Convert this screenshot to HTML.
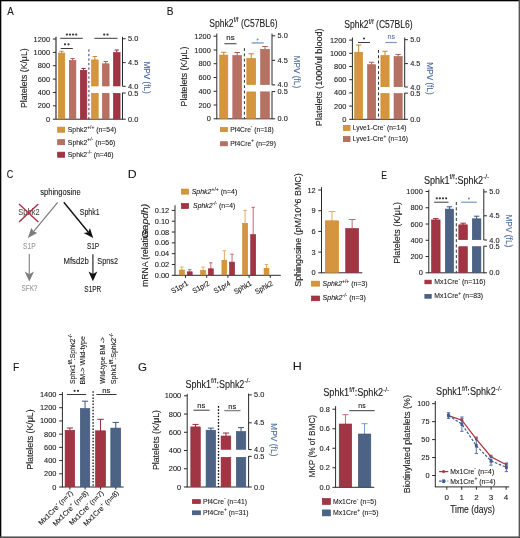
<!DOCTYPE html><html><head><meta charset="utf-8"><title>Figure</title><style>html,body{margin:0;padding:0;background:#fff;}svg{display:block;will-change:transform;filter:blur(0.25px);}text{font-family:"Liberation Sans",sans-serif;}</style></head><body>
<svg width="520" height="538" viewBox="0 0 520 538">
<rect x="0" y="0" width="520" height="538" fill="#fff"/>
<text x="7.28" y="15.2" font-size="10.6" fill="#1a1a1a" stroke="#1a1a1a" stroke-width="0.1" textLength="6.54" lengthAdjust="spacingAndGlyphs">A</text>
<text x="166.87" y="15.2" font-size="10.6" fill="#1a1a1a" stroke="#1a1a1a" stroke-width="0.1" textLength="6.77" lengthAdjust="spacingAndGlyphs">B</text>
<text x="6.74" y="178.1" font-size="10.6" fill="#1a1a1a" stroke="#1a1a1a" stroke-width="0.1" textLength="6.5" lengthAdjust="spacingAndGlyphs">C</text>
<text x="127.79" y="178.1" font-size="10.6" fill="#1a1a1a" stroke="#1a1a1a" stroke-width="0.1" textLength="8.9" lengthAdjust="spacingAndGlyphs">D</text>
<text x="381.2" y="178.5" font-size="10.6" fill="#1a1a1a" stroke="#1a1a1a" stroke-width="0.1" textLength="5.66" lengthAdjust="spacingAndGlyphs">E</text>
<text x="12.91" y="371.3" font-size="10.6" fill="#1a1a1a" stroke="#1a1a1a" stroke-width="0.1" textLength="6.25" lengthAdjust="spacingAndGlyphs">F</text>
<text x="137.92" y="371" font-size="10.6" fill="#1a1a1a" stroke="#1a1a1a" stroke-width="0.1" textLength="8.94" lengthAdjust="spacingAndGlyphs">G</text>
<text x="292.77" y="370.4" font-size="10.6" fill="#1a1a1a" stroke="#1a1a1a" stroke-width="0.1" textLength="9.05" lengthAdjust="spacingAndGlyphs">H</text>
<line x1="56" y1="36.8" x2="56" y2="119.2" stroke="#333" stroke-width="1.2"/>
<line x1="52.8" y1="119.2" x2="56" y2="119.2" stroke="#2a2a2a" stroke-width="1"/>
<text x="50" y="121.75" font-size="7.4" text-anchor="end" fill="#1a1a1a" stroke="#1a1a1a" stroke-width="0.1">0</text>
<line x1="52.8" y1="105.83" x2="56" y2="105.83" stroke="#2a2a2a" stroke-width="1"/>
<text x="50" y="108.39" font-size="7.4" text-anchor="end" fill="#1a1a1a" stroke="#1a1a1a" stroke-width="0.1">200</text>
<line x1="52.8" y1="92.47" x2="56" y2="92.47" stroke="#2a2a2a" stroke-width="1"/>
<text x="50" y="95.02" font-size="7.4" text-anchor="end" fill="#1a1a1a" stroke="#1a1a1a" stroke-width="0.1">400</text>
<line x1="52.8" y1="79.1" x2="56" y2="79.1" stroke="#2a2a2a" stroke-width="1"/>
<text x="50" y="81.65" font-size="7.4" text-anchor="end" fill="#1a1a1a" stroke="#1a1a1a" stroke-width="0.1">600</text>
<line x1="52.8" y1="65.73" x2="56" y2="65.73" stroke="#2a2a2a" stroke-width="1"/>
<text x="50" y="68.29" font-size="7.4" text-anchor="end" fill="#1a1a1a" stroke="#1a1a1a" stroke-width="0.1">800</text>
<line x1="52.8" y1="52.37" x2="56" y2="52.37" stroke="#2a2a2a" stroke-width="1"/>
<text x="50" y="54.92" font-size="7.4" text-anchor="end" fill="#1a1a1a" stroke="#1a1a1a" stroke-width="0.1">1000</text>
<line x1="52.8" y1="39" x2="56" y2="39" stroke="#2a2a2a" stroke-width="1"/>
<text x="50" y="41.55" font-size="7.4" text-anchor="end" fill="#1a1a1a" stroke="#1a1a1a" stroke-width="0.1">1200</text>
<line x1="56" y1="119.2" x2="123" y2="119.2" stroke="#2a2a2a" stroke-width="1"/>
<line x1="122.5" y1="36.8" x2="122.5" y2="86.3" stroke="#2a2a2a" stroke-width="1"/>
<line x1="122.5" y1="92.6" x2="122.5" y2="119.2" stroke="#2a2a2a" stroke-width="1"/>
<line x1="122.5" y1="38.75" x2="125.7" y2="38.75" stroke="#2a2a2a" stroke-width="1"/>
<text x="128" y="41.3" font-size="7.4" text-anchor="start" fill="#1a1a1a" stroke="#1a1a1a" stroke-width="0.1">5.0</text>
<line x1="122.5" y1="62.6" x2="125.7" y2="62.6" stroke="#2a2a2a" stroke-width="1"/>
<text x="128" y="65.15" font-size="7.4" text-anchor="start" fill="#1a1a1a" stroke="#1a1a1a" stroke-width="0.1">4.5</text>
<line x1="122.5" y1="86.3" x2="125.7" y2="86.3" stroke="#2a2a2a" stroke-width="1"/>
<text x="128" y="88.85" font-size="7.4" text-anchor="start" fill="#1a1a1a" stroke="#1a1a1a" stroke-width="0.1">4.0</text>
<line x1="122.5" y1="93" x2="125.7" y2="93" stroke="#2a2a2a" stroke-width="1"/>
<text x="128" y="95.55" font-size="7.4" text-anchor="start" fill="#1a1a1a" stroke="#1a1a1a" stroke-width="0.1">0.5</text>
<line x1="122.5" y1="119.2" x2="125.7" y2="119.2" stroke="#2a2a2a" stroke-width="1"/>
<text x="128" y="121.75" font-size="7.4" text-anchor="start" fill="#1a1a1a" stroke="#1a1a1a" stroke-width="0.1">0.0</text>
<text x="26.6" y="108.01" font-size="8.4" fill="#1a1a1a" stroke="#1a1a1a" stroke-width="0.1" textLength="59.65" lengthAdjust="spacingAndGlyphs" transform="rotate(-90 26.6 108.01)">Platelets (K/μL)</text>
<text x="144.3" y="61.53" font-size="8.4" fill="#4A6A9E" stroke="#4A6A9E" stroke-width="0.1" textLength="32.28" lengthAdjust="spacingAndGlyphs" transform="rotate(90 144.3 61.53)">MPV (fL)</text>
<line x1="61.6" y1="53.25" x2="61.6" y2="51.25" stroke="#C8882F" stroke-width="1"/>
<line x1="59.5" y1="51.25" x2="63.7" y2="51.25" stroke="#C8882F" stroke-width="1"/>
<rect x="58.4" y="53.05" width="6.4" height="65.85" fill="#D5953E" stroke="#C8882F" stroke-width="0.6"/>
<line x1="72.6" y1="60.5" x2="72.6" y2="58.5" stroke="#A86355" stroke-width="1"/>
<line x1="70.44" y1="58.5" x2="74.76" y2="58.5" stroke="#A86355" stroke-width="1"/>
<rect x="69.3" y="60.3" width="6.6" height="58.6" fill="#B77163" stroke="#A86355" stroke-width="0.6"/>
<line x1="83.55" y1="70.5" x2="83.55" y2="68.4" stroke="#922838" stroke-width="1"/>
<line x1="81.42" y1="68.4" x2="85.68" y2="68.4" stroke="#922838" stroke-width="1"/>
<rect x="80.3" y="70.3" width="6.5" height="48.6" fill="#A23544" stroke="#922838" stroke-width="0.6"/>
<line x1="88.9" y1="49.4" x2="88.9" y2="119.2" stroke="#3a3a3a" stroke-width="1" stroke-dasharray="2.3,2.2"/>
<line x1="94.85" y1="60.1" x2="94.85" y2="56.5" stroke="#C8882F" stroke-width="1"/>
<line x1="92.66" y1="56.5" x2="97.04" y2="56.5" stroke="#C8882F" stroke-width="1"/>
<rect x="91.5" y="59.9" width="6.7" height="26.1" fill="#D5953E" stroke="#C8882F" stroke-width="0.6"/>
<rect x="91.5" y="93.3" width="6.7" height="25.6" fill="#D5953E" stroke="#C8882F" stroke-width="0.6"/>
<line x1="105.75" y1="64" x2="105.75" y2="61.5" stroke="#A86355" stroke-width="1"/>
<line x1="103.56" y1="61.5" x2="107.94" y2="61.5" stroke="#A86355" stroke-width="1"/>
<rect x="102.4" y="63.8" width="6.7" height="22.2" fill="#B77163" stroke="#A86355" stroke-width="0.6"/>
<rect x="102.4" y="93.3" width="6.7" height="25.6" fill="#B77163" stroke="#A86355" stroke-width="0.6"/>
<line x1="116.75" y1="52.75" x2="116.75" y2="50" stroke="#922838" stroke-width="1"/>
<line x1="114.56" y1="50" x2="118.94" y2="50" stroke="#922838" stroke-width="1"/>
<rect x="113.4" y="52.55" width="6.7" height="33.45" fill="#A23544" stroke="#922838" stroke-width="0.6"/>
<rect x="113.4" y="93.3" width="6.7" height="25.6" fill="#A23544" stroke="#922838" stroke-width="0.6"/>
<line x1="60.2" y1="38.3" x2="82.8" y2="38.3" stroke="#3a3a3a" stroke-width="1"/>
<circle cx="66.9" cy="34.6" r="1.15" fill="#3a3a3a"/>
<circle cx="70" cy="34.6" r="1.15" fill="#3a3a3a"/>
<circle cx="73.1" cy="34.6" r="1.15" fill="#3a3a3a"/>
<circle cx="76.2" cy="34.6" r="1.15" fill="#3a3a3a"/>
<line x1="60.7" y1="48.5" x2="72.8" y2="48.5" stroke="#3a3a3a" stroke-width="1"/>
<circle cx="65" cy="44.3" r="1.15" fill="#3a3a3a"/>
<circle cx="68.5" cy="44.3" r="1.15" fill="#3a3a3a"/>
<line x1="94.4" y1="38.3" x2="117.5" y2="38.3" stroke="#3a3a3a" stroke-width="1"/>
<circle cx="104.2" cy="34.6" r="1.15" fill="#3a3a3a"/>
<circle cx="107.5" cy="34.6" r="1.15" fill="#3a3a3a"/>
<rect x="57.65" y="127.15" width="7" height="5.1" fill="#D5953E" stroke="#C8882F" stroke-width="0.7"/>
<text x="67.79" y="132.2" font-size="7.8" fill="#1a1a1a" stroke="#1a1a1a" stroke-width="0.1" textLength="48.44" lengthAdjust="spacingAndGlyphs">Sphk2<tspan font-size="5.62" dy="-3.43">+/+</tspan><tspan dy="3.43"> (n=54)</tspan></text>
<rect x="57.65" y="139.65" width="7" height="5.1" fill="#B77163" stroke="#A86355" stroke-width="0.7"/>
<text x="67.79" y="144.7" font-size="7.8" fill="#1a1a1a" stroke="#1a1a1a" stroke-width="0.1" textLength="47.54" lengthAdjust="spacingAndGlyphs">Sphk2<tspan font-size="5.62" dy="-3.43">+/-</tspan><tspan dy="3.43"> (n=56)</tspan></text>
<rect x="57.65" y="152.15" width="7" height="5.1" fill="#A23544" stroke="#922838" stroke-width="0.7"/>
<text x="67.79" y="157.2" font-size="7.8" fill="#1a1a1a" stroke="#1a1a1a" stroke-width="0.1" textLength="45.83" lengthAdjust="spacingAndGlyphs">Sphk2<tspan font-size="5.62" dy="-3.43">-/-</tspan><tspan dy="3.43"> (n=46)</tspan></text>
<line x1="216.8" y1="33.5" x2="216.8" y2="118.8" stroke="#2a2a2a" stroke-width="1"/>
<line x1="213.6" y1="118.8" x2="216.8" y2="118.8" stroke="#2a2a2a" stroke-width="1"/>
<text x="210.8" y="121.35" font-size="7.4" text-anchor="end" fill="#1a1a1a" stroke="#1a1a1a" stroke-width="0.1">0</text>
<line x1="213.6" y1="105.03" x2="216.8" y2="105.03" stroke="#2a2a2a" stroke-width="1"/>
<text x="210.8" y="107.59" font-size="7.4" text-anchor="end" fill="#1a1a1a" stroke="#1a1a1a" stroke-width="0.1">200</text>
<line x1="213.6" y1="91.27" x2="216.8" y2="91.27" stroke="#2a2a2a" stroke-width="1"/>
<text x="210.8" y="93.82" font-size="7.4" text-anchor="end" fill="#1a1a1a" stroke="#1a1a1a" stroke-width="0.1">400</text>
<line x1="213.6" y1="77.5" x2="216.8" y2="77.5" stroke="#2a2a2a" stroke-width="1"/>
<text x="210.8" y="80.05" font-size="7.4" text-anchor="end" fill="#1a1a1a" stroke="#1a1a1a" stroke-width="0.1">600</text>
<line x1="213.6" y1="63.73" x2="216.8" y2="63.73" stroke="#2a2a2a" stroke-width="1"/>
<text x="210.8" y="66.29" font-size="7.4" text-anchor="end" fill="#1a1a1a" stroke="#1a1a1a" stroke-width="0.1">800</text>
<line x1="213.6" y1="49.97" x2="216.8" y2="49.97" stroke="#2a2a2a" stroke-width="1"/>
<text x="210.8" y="52.52" font-size="7.4" text-anchor="end" fill="#1a1a1a" stroke="#1a1a1a" stroke-width="0.1">1000</text>
<line x1="213.6" y1="36.2" x2="216.8" y2="36.2" stroke="#2a2a2a" stroke-width="1"/>
<text x="210.8" y="38.75" font-size="7.4" text-anchor="end" fill="#1a1a1a" stroke="#1a1a1a" stroke-width="0.1">1200</text>
<line x1="216.3" y1="118.8" x2="272.5" y2="118.8" stroke="#2a2a2a" stroke-width="1"/>
<line x1="272" y1="33.5" x2="272" y2="84.9" stroke="#2a2a2a" stroke-width="1"/>
<line x1="272" y1="91.4" x2="272" y2="118.8" stroke="#2a2a2a" stroke-width="1"/>
<line x1="272" y1="35.8" x2="275.2" y2="35.8" stroke="#2a2a2a" stroke-width="1"/>
<text x="277.5" y="38.35" font-size="7.4" text-anchor="start" fill="#1a1a1a" stroke="#1a1a1a" stroke-width="0.1">5.0</text>
<line x1="272" y1="60.3" x2="275.2" y2="60.3" stroke="#2a2a2a" stroke-width="1"/>
<text x="277.5" y="62.85" font-size="7.4" text-anchor="start" fill="#1a1a1a" stroke="#1a1a1a" stroke-width="0.1">4.5</text>
<line x1="272" y1="84.9" x2="275.2" y2="84.9" stroke="#2a2a2a" stroke-width="1"/>
<text x="277.5" y="87.45" font-size="7.4" text-anchor="start" fill="#1a1a1a" stroke="#1a1a1a" stroke-width="0.1">4.0</text>
<line x1="272" y1="91.6" x2="275.2" y2="91.6" stroke="#2a2a2a" stroke-width="1"/>
<text x="277.5" y="94.15" font-size="7.4" text-anchor="start" fill="#1a1a1a" stroke="#1a1a1a" stroke-width="0.1">0.5</text>
<line x1="272" y1="118.8" x2="275.2" y2="118.8" stroke="#2a2a2a" stroke-width="1"/>
<text x="277.5" y="121.35" font-size="7.4" text-anchor="start" fill="#1a1a1a" stroke="#1a1a1a" stroke-width="0.1">0.0</text>
<text x="186.8" y="106.41" font-size="8.4" fill="#1a1a1a" stroke="#1a1a1a" stroke-width="0.1" textLength="59.76" lengthAdjust="spacingAndGlyphs" transform="rotate(-90 186.8 106.41)">Platelets (K/μL)</text>
<text x="294.4" y="55.62" font-size="8.4" fill="#4A6A9E" stroke="#4A6A9E" stroke-width="0.1" textLength="32.59" lengthAdjust="spacingAndGlyphs" transform="rotate(90 294.4 55.62)">MPV (fL)</text>
<line x1="223.75" y1="55.25" x2="223.75" y2="52.25" stroke="#C8882F" stroke-width="1"/>
<line x1="221.14" y1="52.25" x2="226.36" y2="52.25" stroke="#C8882F" stroke-width="1"/>
<rect x="219.7" y="55.05" width="8.1" height="63.45" fill="#D5953E" stroke="#C8882F" stroke-width="0.6"/>
<line x1="237.2" y1="55.75" x2="237.2" y2="52.5" stroke="#A86355" stroke-width="1"/>
<line x1="234.38" y1="52.5" x2="240.02" y2="52.5" stroke="#A86355" stroke-width="1"/>
<rect x="232.8" y="55.55" width="8.8" height="62.95" fill="#B77163" stroke="#A86355" stroke-width="0.6"/>
<line x1="244.4" y1="48.1" x2="244.4" y2="118.8" stroke="#333" stroke-width="1" stroke-dasharray="2.9,2.4"/>
<line x1="251.25" y1="58.6" x2="251.25" y2="53.75" stroke="#C8882F" stroke-width="1"/>
<line x1="248.4" y1="53.75" x2="254.1" y2="53.75" stroke="#C8882F" stroke-width="1"/>
<rect x="246.8" y="58.4" width="8.9" height="26.2" fill="#D5953E" stroke="#C8882F" stroke-width="0.6"/>
<rect x="246.8" y="91.9" width="8.9" height="26.6" fill="#D5953E" stroke="#C8882F" stroke-width="0.6"/>
<line x1="265" y1="49.5" x2="265" y2="46.5" stroke="#A86355" stroke-width="1"/>
<line x1="262.18" y1="46.5" x2="267.82" y2="46.5" stroke="#A86355" stroke-width="1"/>
<rect x="260.6" y="49.3" width="8.8" height="35.3" fill="#B77163" stroke="#A86355" stroke-width="0.6"/>
<rect x="260.6" y="91.9" width="8.8" height="26.6" fill="#B77163" stroke="#A86355" stroke-width="0.6"/>
<line x1="224.4" y1="43.75" x2="236.5" y2="43.75" stroke="#3a3a3a" stroke-width="1"/>
<text x="226.38" y="39.7" font-size="7" fill="#1a1a1a" stroke="#1a1a1a" stroke-width="0.1" textLength="8.31" lengthAdjust="spacingAndGlyphs">ns</text>
<line x1="251.6" y1="42.9" x2="263.75" y2="42.9" stroke="#8DA4C6" stroke-width="1.5"/>
<circle cx="257.6" cy="39.6" r="1" fill="#7890B8"/>
<text x="209.21" y="26.6" font-size="10" fill="#1a1a1a" stroke="#1a1a1a" stroke-width="0.1" textLength="68.32" lengthAdjust="spacingAndGlyphs">Sphk2<tspan font-size="7.2" dy="-4.4">f/f</tspan><tspan dy="4.4"> (C57BL6)</tspan></text>
<rect x="220.35" y="127.55" width="7" height="4.1" fill="#D5953E" stroke="#C8882F" stroke-width="0.7"/>
<rect x="220.35" y="141.75" width="7" height="4.1" fill="#B77163" stroke="#A86355" stroke-width="0.7"/>
<text x="230.15" y="131.7" font-size="7.8" fill="#1a1a1a" stroke="#1a1a1a" stroke-width="0.1" textLength="43.56" lengthAdjust="spacingAndGlyphs">Pf4Cre<tspan font-size="5.62" dy="-3.43">-</tspan><tspan dy="3.43"> (n=18)</tspan></text>
<text x="230.14" y="145.8" font-size="7.8" fill="#1a1a1a" stroke="#1a1a1a" stroke-width="0.1" textLength="45.78" lengthAdjust="spacingAndGlyphs">Pf4Cre<tspan font-size="5.62" dy="-3.43">+</tspan><tspan dy="3.43"> (n=29)</tspan></text>
<line x1="352.4" y1="37.5" x2="352.4" y2="119.3" stroke="#2a2a2a" stroke-width="1"/>
<line x1="349.2" y1="119.3" x2="352.4" y2="119.3" stroke="#2a2a2a" stroke-width="1"/>
<text x="346.4" y="121.85" font-size="7.4" text-anchor="end" fill="#1a1a1a" stroke="#1a1a1a" stroke-width="0.1">0</text>
<line x1="349.2" y1="106.1" x2="352.4" y2="106.1" stroke="#2a2a2a" stroke-width="1"/>
<text x="346.4" y="108.65" font-size="7.4" text-anchor="end" fill="#1a1a1a" stroke="#1a1a1a" stroke-width="0.1">200</text>
<line x1="349.2" y1="92.9" x2="352.4" y2="92.9" stroke="#2a2a2a" stroke-width="1"/>
<text x="346.4" y="95.45" font-size="7.4" text-anchor="end" fill="#1a1a1a" stroke="#1a1a1a" stroke-width="0.1">400</text>
<line x1="349.2" y1="79.7" x2="352.4" y2="79.7" stroke="#2a2a2a" stroke-width="1"/>
<text x="346.4" y="82.25" font-size="7.4" text-anchor="end" fill="#1a1a1a" stroke="#1a1a1a" stroke-width="0.1">600</text>
<line x1="349.2" y1="66.5" x2="352.4" y2="66.5" stroke="#2a2a2a" stroke-width="1"/>
<text x="346.4" y="69.05" font-size="7.4" text-anchor="end" fill="#1a1a1a" stroke="#1a1a1a" stroke-width="0.1">800</text>
<line x1="349.2" y1="53.3" x2="352.4" y2="53.3" stroke="#2a2a2a" stroke-width="1"/>
<text x="346.4" y="55.85" font-size="7.4" text-anchor="end" fill="#1a1a1a" stroke="#1a1a1a" stroke-width="0.1">1000</text>
<line x1="349.2" y1="40.1" x2="352.4" y2="40.1" stroke="#2a2a2a" stroke-width="1"/>
<text x="346.4" y="42.65" font-size="7.4" text-anchor="end" fill="#1a1a1a" stroke="#1a1a1a" stroke-width="0.1">1200</text>
<line x1="351.9" y1="119.3" x2="405.2" y2="119.3" stroke="#2a2a2a" stroke-width="1"/>
<line x1="404.7" y1="37.5" x2="404.7" y2="87" stroke="#2a2a2a" stroke-width="1"/>
<line x1="404.7" y1="92.9" x2="404.7" y2="119.3" stroke="#2a2a2a" stroke-width="1"/>
<line x1="404.7" y1="39.7" x2="407.9" y2="39.7" stroke="#2a2a2a" stroke-width="1"/>
<text x="410.2" y="42.25" font-size="7.4" text-anchor="start" fill="#1a1a1a" stroke="#1a1a1a" stroke-width="0.1">5.0</text>
<line x1="404.7" y1="63.6" x2="407.9" y2="63.6" stroke="#2a2a2a" stroke-width="1"/>
<text x="410.2" y="66.15" font-size="7.4" text-anchor="start" fill="#1a1a1a" stroke="#1a1a1a" stroke-width="0.1">4.5</text>
<line x1="404.7" y1="87" x2="407.9" y2="87" stroke="#2a2a2a" stroke-width="1"/>
<text x="410.2" y="89.55" font-size="7.4" text-anchor="start" fill="#1a1a1a" stroke="#1a1a1a" stroke-width="0.1">4.0</text>
<line x1="404.7" y1="93.2" x2="407.9" y2="93.2" stroke="#2a2a2a" stroke-width="1"/>
<text x="410.2" y="95.75" font-size="7.4" text-anchor="start" fill="#1a1a1a" stroke="#1a1a1a" stroke-width="0.1">0.5</text>
<line x1="404.7" y1="119.3" x2="407.9" y2="119.3" stroke="#2a2a2a" stroke-width="1"/>
<text x="410.2" y="121.85" font-size="7.4" text-anchor="start" fill="#1a1a1a" stroke="#1a1a1a" stroke-width="0.1">0.0</text>
<text x="321.8" y="126.14" font-size="8.4" fill="#1a1a1a" stroke="#1a1a1a" stroke-width="0.1" textLength="97.7" lengthAdjust="spacingAndGlyphs" transform="rotate(-90 321.8 126.14)">Platelets (1000/ul blood)</text>
<text x="427" y="62.33" font-size="8.4" fill="#4A6A9E" stroke="#4A6A9E" stroke-width="0.1" textLength="32.38" lengthAdjust="spacingAndGlyphs" transform="rotate(90 427 62.33)">MPV (fL)</text>
<line x1="358.65" y1="52.4" x2="358.65" y2="45" stroke="#C8882F" stroke-width="1"/>
<line x1="356.1" y1="45" x2="361.2" y2="45" stroke="#C8882F" stroke-width="1"/>
<rect x="354.7" y="52.2" width="7.9" height="66.8" fill="#D5953E" stroke="#C8882F" stroke-width="0.6"/>
<line x1="371.62" y1="64.9" x2="371.62" y2="62.25" stroke="#A86355" stroke-width="1"/>
<line x1="369" y1="62.25" x2="374.25" y2="62.25" stroke="#A86355" stroke-width="1"/>
<rect x="367.55" y="64.7" width="8.15" height="54.3" fill="#B77163" stroke="#A86355" stroke-width="0.6"/>
<line x1="378.5" y1="50" x2="378.5" y2="119.3" stroke="#333" stroke-width="1" stroke-dasharray="2.9,2.4"/>
<line x1="385" y1="55.75" x2="385" y2="51.25" stroke="#C8882F" stroke-width="1"/>
<line x1="382.36" y1="51.25" x2="387.64" y2="51.25" stroke="#C8882F" stroke-width="1"/>
<rect x="380.9" y="55.55" width="8.2" height="31.15" fill="#D5953E" stroke="#C8882F" stroke-width="0.6"/>
<rect x="380.9" y="93.5" width="8.2" height="25.5" fill="#D5953E" stroke="#C8882F" stroke-width="0.6"/>
<line x1="398.12" y1="56.75" x2="398.12" y2="54.4" stroke="#A86355" stroke-width="1"/>
<line x1="395.5" y1="54.4" x2="400.75" y2="54.4" stroke="#A86355" stroke-width="1"/>
<rect x="394.05" y="56.55" width="8.15" height="30.15" fill="#B77163" stroke="#A86355" stroke-width="0.6"/>
<rect x="394.05" y="93.5" width="8.15" height="25.5" fill="#B77163" stroke="#A86355" stroke-width="0.6"/>
<line x1="358" y1="42.5" x2="370" y2="42.5" stroke="#3a3a3a" stroke-width="1"/>
<circle cx="364" cy="38.6" r="1" fill="#2a2a2a"/>
<line x1="385.25" y1="42.5" x2="396.9" y2="42.5" stroke="#7F98C0" stroke-width="1.2"/>
<text x="387.53" y="39.4" font-size="7" fill="#5A78A8" stroke="#5A78A8" stroke-width="0.1" textLength="7.48" lengthAdjust="spacingAndGlyphs">ns</text>
<text x="344.21" y="27.9" font-size="10" fill="#1a1a1a" stroke="#1a1a1a" stroke-width="0.1" textLength="68.52" lengthAdjust="spacingAndGlyphs">Sphk2<tspan font-size="7.2" dy="-4.4">f/f</tspan><tspan dy="4.4"> (C57BL6)</tspan></text>
<rect x="343.35" y="125.35" width="6.7" height="5.1" fill="#D5953E" stroke="#C8882F" stroke-width="0.7"/>
<rect x="343.35" y="136.55" width="6.7" height="5.1" fill="#B77163" stroke="#A86355" stroke-width="0.7"/>
<text x="352.85" y="130.4" font-size="7.8" fill="#1a1a1a" stroke="#1a1a1a" stroke-width="0.1" textLength="53.56" lengthAdjust="spacingAndGlyphs">Lyve1-Cre<tspan font-size="5.62" dy="-3.43">-</tspan><tspan dy="3.43"> (n=14)</tspan></text>
<text x="352.85" y="141.3" font-size="7.8" fill="#1a1a1a" stroke="#1a1a1a" stroke-width="0.1" textLength="55.06" lengthAdjust="spacingAndGlyphs">Lyve1-Cre<tspan font-size="5.62" dy="-3.43">+</tspan><tspan dy="3.43"> (n=16)</tspan></text>
<text x="40.19" y="194.9" font-size="8.2" fill="#1a1a1a" stroke="#1a1a1a" stroke-width="0.1" textLength="40.45" lengthAdjust="spacingAndGlyphs">sphingosine</text>
<text x="18.26" y="215" font-size="8.2" fill="#3a3a3a" textLength="21.32" lengthAdjust="spacingAndGlyphs">Sphk2</text>
<line x1="19" y1="204.1" x2="38.3" y2="222" stroke="#AE2C42" stroke-width="1.35"/>
<line x1="38.3" y1="204.1" x2="19" y2="222" stroke="#AE2C42" stroke-width="1.35"/>
<line x1="57.7" y1="202.4" x2="33.9" y2="231.1" stroke="#7a7a7a" stroke-width="1.2"/>
<polygon points="27.9,238 31.2,228 33.7,231.3 37.2,233.1" fill="#7d7d7d"/>
<text x="79.78" y="215.1" font-size="8.2" fill="#1a1a1a" stroke="#1a1a1a" stroke-width="0.1" textLength="19.76" lengthAdjust="spacingAndGlyphs">Sphk1</text>
<line x1="63.8" y1="202.3" x2="88.4" y2="232.3" stroke="#111" stroke-width="1.4"/>
<polygon points="93.2,238 83.6,233.1 88.3,232.3 89.9,228" fill="#111"/>
<text x="86.9" y="248.5" font-size="8.2" fill="#1a1a1a" stroke="#1a1a1a" stroke-width="0.1" textLength="12.34" lengthAdjust="spacingAndGlyphs">S1P</text>
<text x="23.1" y="248.9" font-size="8.2" fill="#999999" stroke="#999999" stroke-width="0.1" textLength="12.45" lengthAdjust="spacingAndGlyphs">S1P</text>
<line x1="92.9" y1="254.3" x2="92.9" y2="274" stroke="#4a4a4a" stroke-width="1.4"/>
<polygon points="92.9,281.2 88.5,271.4 92.9,274.1 97.3,271.4" fill="#111"/>
<line x1="29.3" y1="254" x2="29.3" y2="274" stroke="#8a8a8a" stroke-width="1.2"/>
<polygon points="29.3,281.4 24.7,271.6 29.3,274.2 34,271.6" fill="#7d7d7d"/>
<text x="63.57" y="264.2" font-size="8.2" fill="#1a1a1a" stroke="#1a1a1a" stroke-width="0.1" textLength="25.26" lengthAdjust="spacingAndGlyphs">Mfsd2b</text>
<text x="97.37" y="264.2" font-size="8.2" fill="#1a1a1a" stroke="#1a1a1a" stroke-width="0.1" textLength="20.7" lengthAdjust="spacingAndGlyphs">Spns2</text>
<text x="84.3" y="291.5" font-size="8.2" fill="#1a1a1a" stroke="#1a1a1a" stroke-width="0.1" textLength="17" lengthAdjust="spacingAndGlyphs">S1PR</text>
<text x="21.61" y="291.2" font-size="8.2" fill="#999999" stroke="#999999" stroke-width="0.1" textLength="15.72" lengthAdjust="spacingAndGlyphs">SFK?</text>
<line x1="175" y1="205.2" x2="175" y2="275.3" stroke="#2a2a2a" stroke-width="1"/>
<line x1="171.8" y1="275.3" x2="175" y2="275.3" stroke="#2a2a2a" stroke-width="1"/>
<text x="169.2" y="277.85" font-size="7.4" text-anchor="end" fill="#1a1a1a" stroke="#1a1a1a" stroke-width="0.1">0.00</text>
<line x1="171.8" y1="264.48" x2="175" y2="264.48" stroke="#2a2a2a" stroke-width="1"/>
<text x="169.2" y="267.04" font-size="7.4" text-anchor="end" fill="#1a1a1a" stroke="#1a1a1a" stroke-width="0.1">0.02</text>
<line x1="171.8" y1="253.67" x2="175" y2="253.67" stroke="#2a2a2a" stroke-width="1"/>
<text x="169.2" y="256.22" font-size="7.4" text-anchor="end" fill="#1a1a1a" stroke="#1a1a1a" stroke-width="0.1">0.04</text>
<line x1="171.8" y1="242.85" x2="175" y2="242.85" stroke="#2a2a2a" stroke-width="1"/>
<text x="169.2" y="245.4" font-size="7.4" text-anchor="end" fill="#1a1a1a" stroke="#1a1a1a" stroke-width="0.1">0.06</text>
<line x1="171.8" y1="232.03" x2="175" y2="232.03" stroke="#2a2a2a" stroke-width="1"/>
<text x="169.2" y="234.59" font-size="7.4" text-anchor="end" fill="#1a1a1a" stroke="#1a1a1a" stroke-width="0.1">0.08</text>
<line x1="171.8" y1="221.22" x2="175" y2="221.22" stroke="#2a2a2a" stroke-width="1"/>
<text x="169.2" y="223.77" font-size="7.4" text-anchor="end" fill="#1a1a1a" stroke="#1a1a1a" stroke-width="0.1">0.10</text>
<line x1="171.8" y1="210.4" x2="175" y2="210.4" stroke="#2a2a2a" stroke-width="1"/>
<text x="169.2" y="212.95" font-size="7.4" text-anchor="end" fill="#1a1a1a" stroke="#1a1a1a" stroke-width="0.1">0.12</text>
<line x1="174.5" y1="275.3" x2="280.8" y2="275.3" stroke="#2a2a2a" stroke-width="1"/>
<line x1="185.5" y1="275.3" x2="185.5" y2="277.9" stroke="#2a2a2a" stroke-width="1"/>
<line x1="206.7" y1="275.3" x2="206.7" y2="277.9" stroke="#2a2a2a" stroke-width="1"/>
<line x1="227.9" y1="275.3" x2="227.9" y2="277.9" stroke="#2a2a2a" stroke-width="1"/>
<line x1="249.1" y1="275.3" x2="249.1" y2="277.9" stroke="#2a2a2a" stroke-width="1"/>
<line x1="270.3" y1="275.3" x2="270.3" y2="277.9" stroke="#2a2a2a" stroke-width="1"/>
<line x1="181.85" y1="270.2" x2="181.85" y2="267.1" stroke="#E4AA5E" stroke-width="1"/>
<line x1="180.08" y1="267.1" x2="183.62" y2="267.1" stroke="#E4AA5E" stroke-width="1"/>
<rect x="179.3" y="270" width="5.1" height="5" fill="#D5953E" stroke="#C8882F" stroke-width="0.6"/>
<line x1="189.75" y1="272" x2="189.75" y2="269.6" stroke="#C56878" stroke-width="1"/>
<line x1="188.04" y1="269.6" x2="191.46" y2="269.6" stroke="#C56878" stroke-width="1"/>
<rect x="187.3" y="271.8" width="4.9" height="3.2" fill="#A23544" stroke="#922838" stroke-width="0.6"/>
<line x1="203.05" y1="270.5" x2="203.05" y2="267.1" stroke="#E4AA5E" stroke-width="1"/>
<line x1="201.34" y1="267.1" x2="204.76" y2="267.1" stroke="#E4AA5E" stroke-width="1"/>
<rect x="200.6" y="270.3" width="4.9" height="4.7" fill="#D5953E" stroke="#C8882F" stroke-width="0.6"/>
<line x1="210.8" y1="269" x2="210.8" y2="262.8" stroke="#C56878" stroke-width="1"/>
<line x1="209.06" y1="262.8" x2="212.54" y2="262.8" stroke="#C56878" stroke-width="1"/>
<rect x="208.3" y="268.8" width="5" height="6.2" fill="#A23544" stroke="#922838" stroke-width="0.6"/>
<line x1="224.35" y1="260.4" x2="224.35" y2="250.7" stroke="#E4AA5E" stroke-width="1"/>
<line x1="222.64" y1="250.7" x2="226.06" y2="250.7" stroke="#E4AA5E" stroke-width="1"/>
<rect x="221.9" y="260.2" width="4.9" height="14.8" fill="#D5953E" stroke="#C8882F" stroke-width="0.6"/>
<line x1="232.05" y1="262.3" x2="232.05" y2="254.2" stroke="#C56878" stroke-width="1"/>
<line x1="230.28" y1="254.2" x2="233.82" y2="254.2" stroke="#C56878" stroke-width="1"/>
<rect x="229.5" y="262.1" width="5.1" height="12.9" fill="#A23544" stroke="#922838" stroke-width="0.6"/>
<line x1="245.1" y1="223.5" x2="245.1" y2="210.4" stroke="#E4AA5E" stroke-width="1"/>
<line x1="243.36" y1="210.4" x2="246.84" y2="210.4" stroke="#E4AA5E" stroke-width="1"/>
<rect x="242.6" y="223.3" width="5" height="51.7" fill="#D5953E" stroke="#C8882F" stroke-width="0.6"/>
<line x1="253.2" y1="234.8" x2="253.2" y2="207.3" stroke="#C56878" stroke-width="1"/>
<line x1="251.46" y1="207.3" x2="254.94" y2="207.3" stroke="#C56878" stroke-width="1"/>
<rect x="250.7" y="234.6" width="5" height="40.4" fill="#A23544" stroke="#922838" stroke-width="0.6"/>
<line x1="266.5" y1="268.5" x2="266.5" y2="264.5" stroke="#E4AA5E" stroke-width="1"/>
<line x1="264.8" y1="264.5" x2="268.2" y2="264.5" stroke="#E4AA5E" stroke-width="1"/>
<rect x="264.05" y="268.3" width="4.9" height="6.7" fill="#D5953E" stroke="#C8882F" stroke-width="0.6"/>
<text x="188.7" y="284.8" font-size="7.6" text-anchor="end" fill="#1a1a1a" stroke="#1a1a1a" stroke-width="0.1" transform="rotate(-30 188.7 284.8)" textLength="18" lengthAdjust="spacingAndGlyphs">S1pr1</text>
<text x="209.9" y="284.8" font-size="7.6" text-anchor="end" fill="#1a1a1a" stroke="#1a1a1a" stroke-width="0.1" transform="rotate(-30 209.9 284.8)" textLength="18" lengthAdjust="spacingAndGlyphs">S1pr2</text>
<text x="231.1" y="284.8" font-size="7.6" text-anchor="end" fill="#1a1a1a" stroke="#1a1a1a" stroke-width="0.1" transform="rotate(-30 231.1 284.8)" textLength="18" lengthAdjust="spacingAndGlyphs">S1pr4</text>
<text x="252.3" y="284.8" font-size="7.6" text-anchor="end" fill="#1a1a1a" stroke="#1a1a1a" stroke-width="0.1" transform="rotate(-30 252.3 284.8)" textLength="19.2" lengthAdjust="spacingAndGlyphs">Sphk1</text>
<text x="273.5" y="284.8" font-size="7.6" text-anchor="end" fill="#1a1a1a" stroke="#1a1a1a" stroke-width="0.1" transform="rotate(-30 273.5 284.8)" textLength="19.2" lengthAdjust="spacingAndGlyphs">Sphk2</text>
<text x="148.3" y="286.87" font-size="8.4" fill="#1a1a1a" stroke="#1a1a1a" stroke-width="0.1" textLength="57.74" lengthAdjust="spacingAndGlyphs" transform="rotate(-90 148.3 286.87)">mRNA (relative</text>
<text x="148.3" y="238.52" font-size="8.4" fill="#1a1a1a" stroke="#1a1a1a" stroke-width="0.1" textLength="34.84" lengthAdjust="spacingAndGlyphs" transform="rotate(-90 148.3 238.52)"><tspan font-style="italic">Gapdh)</tspan></text>
<rect x="181.45" y="189.05" width="7.1" height="5.1" fill="#D5953E" stroke="#C8882F" stroke-width="0.7"/>
<rect x="181.45" y="203.45" width="7.1" height="5.1" fill="#A23544" stroke="#922838" stroke-width="0.7"/>
<text x="191.7" y="194.1" font-size="7.8" fill="#1a1a1a" stroke="#1a1a1a" stroke-width="0.1" textLength="45.53" lengthAdjust="spacingAndGlyphs"><tspan font-style="italic">Sphk2</tspan><tspan font-size="5.62" dy="-3.43">+/+</tspan><tspan dy="3.43"> (n=4)</tspan></text>
<text x="193.11" y="208.3" font-size="7.8" fill="#1a1a1a" stroke="#1a1a1a" stroke-width="0.1" textLength="42.12" lengthAdjust="spacingAndGlyphs"><tspan font-style="italic">Sphk2</tspan><tspan font-size="5.62" dy="-3.43">-/-</tspan><tspan dy="3.43"> (n=4)</tspan></text>
<line x1="321.5" y1="187.2" x2="321.5" y2="272.8" stroke="#2a2a2a" stroke-width="1"/>
<line x1="318.3" y1="272.8" x2="321.5" y2="272.8" stroke="#2a2a2a" stroke-width="1"/>
<text x="315.7" y="275.35" font-size="7.4" text-anchor="end" fill="#1a1a1a" stroke="#1a1a1a" stroke-width="0.1">0</text>
<line x1="318.3" y1="252.1" x2="321.5" y2="252.1" stroke="#2a2a2a" stroke-width="1"/>
<text x="315.7" y="254.65" font-size="7.4" text-anchor="end" fill="#1a1a1a" stroke="#1a1a1a" stroke-width="0.1">3</text>
<line x1="318.3" y1="231.4" x2="321.5" y2="231.4" stroke="#2a2a2a" stroke-width="1"/>
<text x="315.7" y="233.95" font-size="7.4" text-anchor="end" fill="#1a1a1a" stroke="#1a1a1a" stroke-width="0.1">6</text>
<line x1="318.3" y1="210.7" x2="321.5" y2="210.7" stroke="#2a2a2a" stroke-width="1"/>
<text x="315.7" y="213.25" font-size="7.4" text-anchor="end" fill="#1a1a1a" stroke="#1a1a1a" stroke-width="0.1">9</text>
<line x1="318.3" y1="190" x2="321.5" y2="190" stroke="#2a2a2a" stroke-width="1"/>
<text x="315.7" y="192.55" font-size="7.4" text-anchor="end" fill="#1a1a1a" stroke="#1a1a1a" stroke-width="0.1">12</text>
<line x1="321" y1="272.8" x2="362.3" y2="272.8" stroke="#2a2a2a" stroke-width="1"/>
<line x1="331.95" y1="221" x2="331.95" y2="211.5" stroke="#E4AA5E" stroke-width="1"/>
<line x1="328.55" y1="211.5" x2="335.35" y2="211.5" stroke="#E4AA5E" stroke-width="1"/>
<rect x="325.3" y="220.8" width="13.3" height="51.7" fill="#D5953E" stroke="#C8882F" stroke-width="0.6"/>
<line x1="352.15" y1="228.7" x2="352.15" y2="219.5" stroke="#C56878" stroke-width="1"/>
<line x1="348.75" y1="219.5" x2="355.55" y2="219.5" stroke="#C56878" stroke-width="1"/>
<rect x="345.7" y="228.5" width="12.9" height="44" fill="#A23544" stroke="#922838" stroke-width="0.6"/>
<text x="301" y="286.8" font-size="8.8" fill="#1a1a1a" stroke="#1a1a1a" stroke-width="0.1" textLength="113.56" lengthAdjust="spacingAndGlyphs" transform="rotate(-90 301 286.8)">Sphingosine (pM/10^6 BMC)</text>
<rect x="311.55" y="281.15" width="8.1" height="5" fill="#D5953E" stroke="#C8882F" stroke-width="0.7"/>
<rect x="311.55" y="296.05" width="8.1" height="4.7" fill="#A23544" stroke="#922838" stroke-width="0.7"/>
<text x="322.61" y="286.2" font-size="7.8" fill="#1a1a1a" stroke="#1a1a1a" stroke-width="0.1" textLength="44.82" lengthAdjust="spacingAndGlyphs"><tspan font-style="italic">Sphk2</tspan><tspan font-size="5.62" dy="-3.43">+/+</tspan><tspan dy="3.43"> (n=3)</tspan></text>
<text x="322.6" y="300.3" font-size="7.8" fill="#1a1a1a" stroke="#1a1a1a" stroke-width="0.1" textLength="43.23" lengthAdjust="spacingAndGlyphs"><tspan font-style="italic">Sphk2</tspan><tspan font-size="5.62" dy="-3.43">-/-</tspan><tspan dy="3.43"> (n=3)</tspan></text>
<line x1="428.8" y1="189.6" x2="428.8" y2="272.8" stroke="#2a2a2a" stroke-width="1"/>
<line x1="425.6" y1="272.8" x2="428.8" y2="272.8" stroke="#2a2a2a" stroke-width="1"/>
<text x="422.8" y="275.35" font-size="7.4" text-anchor="end" fill="#1a1a1a" stroke="#1a1a1a" stroke-width="0.1">0</text>
<line x1="425.6" y1="256.54" x2="428.8" y2="256.54" stroke="#2a2a2a" stroke-width="1"/>
<text x="422.8" y="259.09" font-size="7.4" text-anchor="end" fill="#1a1a1a" stroke="#1a1a1a" stroke-width="0.1">200</text>
<line x1="425.6" y1="240.28" x2="428.8" y2="240.28" stroke="#2a2a2a" stroke-width="1"/>
<text x="422.8" y="242.83" font-size="7.4" text-anchor="end" fill="#1a1a1a" stroke="#1a1a1a" stroke-width="0.1">400</text>
<line x1="425.6" y1="224.02" x2="428.8" y2="224.02" stroke="#2a2a2a" stroke-width="1"/>
<text x="422.8" y="226.57" font-size="7.4" text-anchor="end" fill="#1a1a1a" stroke="#1a1a1a" stroke-width="0.1">600</text>
<line x1="425.6" y1="207.76" x2="428.8" y2="207.76" stroke="#2a2a2a" stroke-width="1"/>
<text x="422.8" y="210.31" font-size="7.4" text-anchor="end" fill="#1a1a1a" stroke="#1a1a1a" stroke-width="0.1">800</text>
<line x1="425.6" y1="191.5" x2="428.8" y2="191.5" stroke="#2a2a2a" stroke-width="1"/>
<text x="422.8" y="194.05" font-size="7.4" text-anchor="end" fill="#1a1a1a" stroke="#1a1a1a" stroke-width="0.1">1000</text>
<line x1="428.3" y1="272.8" x2="484.3" y2="272.8" stroke="#2a2a2a" stroke-width="1"/>
<line x1="483.8" y1="188.8" x2="483.8" y2="240" stroke="#2a2a2a" stroke-width="1"/>
<line x1="483.8" y1="246" x2="483.8" y2="272.8" stroke="#2a2a2a" stroke-width="1"/>
<line x1="483.8" y1="191.9" x2="487" y2="191.9" stroke="#2a2a2a" stroke-width="1"/>
<text x="489.3" y="194.45" font-size="7.4" text-anchor="start" fill="#1a1a1a" stroke="#1a1a1a" stroke-width="0.1">5.0</text>
<line x1="483.8" y1="215.8" x2="487" y2="215.8" stroke="#2a2a2a" stroke-width="1"/>
<text x="489.3" y="218.35" font-size="7.4" text-anchor="start" fill="#1a1a1a" stroke="#1a1a1a" stroke-width="0.1">4.5</text>
<line x1="483.8" y1="240" x2="487" y2="240" stroke="#2a2a2a" stroke-width="1"/>
<text x="489.3" y="242.55" font-size="7.4" text-anchor="start" fill="#1a1a1a" stroke="#1a1a1a" stroke-width="0.1">4.0</text>
<line x1="483.8" y1="246.2" x2="487" y2="246.2" stroke="#2a2a2a" stroke-width="1"/>
<text x="489.3" y="248.75" font-size="7.4" text-anchor="start" fill="#1a1a1a" stroke="#1a1a1a" stroke-width="0.1">0.5</text>
<line x1="483.8" y1="272.8" x2="487" y2="272.8" stroke="#2a2a2a" stroke-width="1"/>
<text x="489.3" y="275.35" font-size="7.4" text-anchor="start" fill="#1a1a1a" stroke="#1a1a1a" stroke-width="0.1">0.0</text>
<text x="400.2" y="263.74" font-size="8.4" fill="#1a1a1a" stroke="#1a1a1a" stroke-width="0.1" textLength="61.7" lengthAdjust="spacingAndGlyphs" transform="rotate(-90 400.2 263.74)">Platelets (K/μL)</text>
<text x="506.2" y="214.42" font-size="8.4" fill="#4A6A9E" stroke="#4A6A9E" stroke-width="0.1" textLength="32.9" lengthAdjust="spacingAndGlyphs" transform="rotate(90 506.2 214.42)">MPV (fL)</text>
<line x1="435.8" y1="220.1" x2="435.8" y2="218.6" stroke="#922838" stroke-width="1"/>
<line x1="433.04" y1="218.6" x2="438.56" y2="218.6" stroke="#922838" stroke-width="1"/>
<rect x="431.5" y="219.9" width="8.6" height="52.6" fill="#A23544" stroke="#922838" stroke-width="0.6"/>
<line x1="449.45" y1="209.3" x2="449.45" y2="206.8" stroke="#3E557C" stroke-width="1"/>
<line x1="446.78" y1="206.8" x2="452.12" y2="206.8" stroke="#3E557C" stroke-width="1"/>
<rect x="445.3" y="209.1" width="8.3" height="63.4" fill="#4C6385" stroke="#3E557C" stroke-width="0.6"/>
<line x1="456.3" y1="202" x2="456.3" y2="272.8" stroke="#333" stroke-width="1" stroke-dasharray="3.1,2.2"/>
<line x1="463.1" y1="225" x2="463.1" y2="223.2" stroke="#922838" stroke-width="1"/>
<line x1="460.34" y1="223.2" x2="465.86" y2="223.2" stroke="#922838" stroke-width="1"/>
<rect x="458.8" y="224.8" width="8.6" height="14.9" fill="#A23544" stroke="#922838" stroke-width="0.6"/>
<rect x="458.8" y="246.7" width="8.6" height="25.8" fill="#A23544" stroke="#922838" stroke-width="0.6"/>
<line x1="476.6" y1="219" x2="476.6" y2="216.2" stroke="#3E557C" stroke-width="1"/>
<line x1="473.84" y1="216.2" x2="479.36" y2="216.2" stroke="#3E557C" stroke-width="1"/>
<rect x="472.3" y="218.8" width="8.6" height="20.9" fill="#4C6385" stroke="#3E557C" stroke-width="0.6"/>
<rect x="472.3" y="246.7" width="8.6" height="25.8" fill="#4C6385" stroke="#3E557C" stroke-width="0.6"/>
<line x1="434.2" y1="202.2" x2="448.5" y2="202.2" stroke="#3a3a3a" stroke-width="1"/>
<circle cx="436.8" cy="198.3" r="1.15" fill="#3a3a3a"/>
<circle cx="439.9" cy="198.3" r="1.15" fill="#3a3a3a"/>
<circle cx="443" cy="198.3" r="1.15" fill="#3a3a3a"/>
<circle cx="446.1" cy="198.3" r="1.15" fill="#3a3a3a"/>
<line x1="461.2" y1="202.2" x2="476.9" y2="202.2" stroke="#6F8CB8" stroke-width="1.1"/>
<circle cx="468.9" cy="198.6" r="1" fill="#6A86B2"/>
<text x="423.89" y="183.8" font-size="10" fill="#1a1a1a" stroke="#1a1a1a" stroke-width="0.1" textLength="65.3" lengthAdjust="spacingAndGlyphs">Sphk1<tspan font-size="7.2" dy="-4.4">f/f</tspan><tspan dy="4.4">:Sphk2</tspan><tspan font-size="7.2" dy="-4.4">-/-</tspan></text>
<rect x="424.85" y="280.15" width="6.4" height="3.7" fill="#A23544" stroke="#922838" stroke-width="0.7"/>
<rect x="424.85" y="294.35" width="6.4" height="3.9" fill="#4C6385" stroke="#3E557C" stroke-width="0.7"/>
<text x="434.24" y="284.1" font-size="7.8" fill="#1a1a1a" stroke="#1a1a1a" stroke-width="0.1" textLength="51.29" lengthAdjust="spacingAndGlyphs">Mx1Cre<tspan font-size="5.62" dy="-3.43">-</tspan><tspan dy="3.43"> (n=116)</tspan></text>
<text x="434.24" y="298" font-size="7.8" fill="#1a1a1a" stroke="#1a1a1a" stroke-width="0.1" textLength="48.89" lengthAdjust="spacingAndGlyphs">Mx1Cre<tspan font-size="5.62" dy="-3.43">+</tspan><tspan dy="3.43"> (n=83)</tspan></text>
<line x1="62.4" y1="392.1" x2="62.4" y2="487" stroke="#2a2a2a" stroke-width="1"/>
<line x1="59.2" y1="487" x2="62.4" y2="487" stroke="#2a2a2a" stroke-width="1"/>
<text x="56.4" y="489.55" font-size="7.4" text-anchor="end" fill="#1a1a1a" stroke="#1a1a1a" stroke-width="0.1">0</text>
<line x1="59.2" y1="473.79" x2="62.4" y2="473.79" stroke="#2a2a2a" stroke-width="1"/>
<text x="56.4" y="476.34" font-size="7.4" text-anchor="end" fill="#1a1a1a" stroke="#1a1a1a" stroke-width="0.1">200</text>
<line x1="59.2" y1="460.57" x2="62.4" y2="460.57" stroke="#2a2a2a" stroke-width="1"/>
<text x="56.4" y="463.12" font-size="7.4" text-anchor="end" fill="#1a1a1a" stroke="#1a1a1a" stroke-width="0.1">400</text>
<line x1="59.2" y1="447.36" x2="62.4" y2="447.36" stroke="#2a2a2a" stroke-width="1"/>
<text x="56.4" y="449.91" font-size="7.4" text-anchor="end" fill="#1a1a1a" stroke="#1a1a1a" stroke-width="0.1">600</text>
<line x1="59.2" y1="434.14" x2="62.4" y2="434.14" stroke="#2a2a2a" stroke-width="1"/>
<text x="56.4" y="436.7" font-size="7.4" text-anchor="end" fill="#1a1a1a" stroke="#1a1a1a" stroke-width="0.1">800</text>
<line x1="59.2" y1="420.93" x2="62.4" y2="420.93" stroke="#2a2a2a" stroke-width="1"/>
<text x="56.4" y="423.48" font-size="7.4" text-anchor="end" fill="#1a1a1a" stroke="#1a1a1a" stroke-width="0.1">1000</text>
<line x1="59.2" y1="407.71" x2="62.4" y2="407.71" stroke="#2a2a2a" stroke-width="1"/>
<text x="56.4" y="410.27" font-size="7.4" text-anchor="end" fill="#1a1a1a" stroke="#1a1a1a" stroke-width="0.1">1200</text>
<line x1="59.2" y1="394.5" x2="62.4" y2="394.5" stroke="#2a2a2a" stroke-width="1"/>
<text x="56.4" y="397.05" font-size="7.4" text-anchor="end" fill="#1a1a1a" stroke="#1a1a1a" stroke-width="0.1">1400</text>
<line x1="61.9" y1="487" x2="123.6" y2="487" stroke="#2a2a2a" stroke-width="1"/>
<line x1="69.9" y1="487" x2="69.9" y2="489.6" stroke="#2a2a2a" stroke-width="1"/>
<line x1="85.1" y1="487" x2="85.1" y2="489.6" stroke="#2a2a2a" stroke-width="1"/>
<line x1="100.6" y1="487" x2="100.6" y2="489.6" stroke="#2a2a2a" stroke-width="1"/>
<line x1="115.8" y1="487" x2="115.8" y2="489.6" stroke="#2a2a2a" stroke-width="1"/>
<text x="33.2" y="469.72" font-size="8.4" fill="#1a1a1a" stroke="#1a1a1a" stroke-width="0.1" textLength="60.37" lengthAdjust="spacingAndGlyphs" transform="rotate(-90 33.2 469.72)">Platelets (K/μL)</text>
<line x1="69.9" y1="430.5" x2="69.9" y2="428" stroke="#922838" stroke-width="1"/>
<line x1="66.84" y1="428" x2="72.96" y2="428" stroke="#922838" stroke-width="1"/>
<rect x="65.1" y="430.3" width="9.6" height="56.4" fill="#A23544" stroke="#922838" stroke-width="0.6"/>
<line x1="85.05" y1="408.7" x2="85.05" y2="401.2" stroke="#3E557C" stroke-width="1"/>
<line x1="82.02" y1="401.2" x2="88.08" y2="401.2" stroke="#3E557C" stroke-width="1"/>
<rect x="80.3" y="408.5" width="9.5" height="78.2" fill="#4C6385" stroke="#3E557C" stroke-width="0.6"/>
<line x1="93.1" y1="391.2" x2="93.1" y2="487" stroke="#111" stroke-width="1.3" stroke-dasharray="1.5,1.6"/>
<line x1="100.55" y1="431" x2="100.55" y2="419.3" stroke="#922838" stroke-width="1"/>
<line x1="97.34" y1="419.3" x2="103.76" y2="419.3" stroke="#922838" stroke-width="1"/>
<rect x="95.5" y="430.8" width="10.1" height="55.9" fill="#A23544" stroke="#922838" stroke-width="0.6"/>
<line x1="115.75" y1="428.3" x2="115.75" y2="422.4" stroke="#3E557C" stroke-width="1"/>
<line x1="112.6" y1="422.4" x2="118.9" y2="422.4" stroke="#3E557C" stroke-width="1"/>
<rect x="110.8" y="428.1" width="9.9" height="58.6" fill="#4C6385" stroke="#3E557C" stroke-width="0.6"/>
<line x1="66.9" y1="394.5" x2="86.1" y2="394.5" stroke="#3a3a3a" stroke-width="1"/>
<circle cx="74.6" cy="390.8" r="1.15" fill="#3a3a3a"/>
<circle cx="78" cy="390.8" r="1.15" fill="#3a3a3a"/>
<line x1="96.4" y1="394.5" x2="116.6" y2="394.5" stroke="#3a3a3a" stroke-width="1"/>
<text x="102.29" y="392.6" font-size="7" fill="#1a1a1a" stroke="#1a1a1a" stroke-width="0.1" textLength="8.08" lengthAdjust="spacingAndGlyphs">ns</text>
<text x="73.4" y="493.6" font-size="7.1" text-anchor="end" fill="#1a1a1a" stroke="#1a1a1a" stroke-width="0.1" transform="rotate(-45 73.4 493.6)">Mx1Cre<tspan font-size="5.11" dy="-3.12">-</tspan><tspan dy="3.12"> (n=7)</tspan></text>
<text x="88.6" y="493.6" font-size="7.1" text-anchor="end" fill="#1a1a1a" stroke="#1a1a1a" stroke-width="0.1" transform="rotate(-45 88.6 493.6)">Mx1Cre<tspan font-size="5.11" dy="-3.12">+</tspan><tspan dy="3.12"> (n=8)</tspan></text>
<text x="104.1" y="493.6" font-size="7.1" text-anchor="end" fill="#1a1a1a" stroke="#1a1a1a" stroke-width="0.1" transform="rotate(-45 104.1 493.6)">Mx1Cre<tspan font-size="5.11" dy="-3.12">-</tspan><tspan dy="3.12"> (n=7)</tspan></text>
<text x="119.3" y="493.6" font-size="7.1" text-anchor="end" fill="#1a1a1a" stroke="#1a1a1a" stroke-width="0.1" transform="rotate(-45 119.3 493.6)">Mx1Cre<tspan font-size="5.11" dy="-3.12">+</tspan><tspan dy="3.12"> (n=8)</tspan></text>
<text x="74.8" y="384.12" font-size="7.4" fill="#1a1a1a" stroke="#1a1a1a" stroke-width="0.1" textLength="50.24" lengthAdjust="spacingAndGlyphs" transform="rotate(-90 74.8 384.12)">Sphk1<tspan font-size="5.33" dy="-3.26">f/f</tspan><tspan dy="3.26">:Sphk2</tspan><tspan font-size="5.33" dy="-3.26">-/-</tspan></text>
<text x="85.3" y="384.38" font-size="7.4" fill="#1a1a1a" stroke="#1a1a1a" stroke-width="0.1" textLength="48.29" lengthAdjust="spacingAndGlyphs" transform="rotate(-90 85.3 384.38)">BM-&gt; Wild-type</text>
<text x="105.1" y="383.83" font-size="7.4" fill="#1a1a1a" stroke="#1a1a1a" stroke-width="0.1" textLength="46.65" lengthAdjust="spacingAndGlyphs" transform="rotate(-90 105.1 383.83)">Wild-type BM -&gt;</text>
<text x="116.2" y="384.12" font-size="7.4" fill="#1a1a1a" stroke="#1a1a1a" stroke-width="0.1" textLength="51.15" lengthAdjust="spacingAndGlyphs" transform="rotate(-90 116.2 384.12)">Sphk1<tspan font-size="5.33" dy="-3.26">f/f</tspan><tspan dy="3.26">:Sphk2</tspan><tspan font-size="5.33" dy="-3.26">-/-</tspan></text>
<line x1="187.2" y1="393.9" x2="187.2" y2="487" stroke="#2a2a2a" stroke-width="1"/>
<line x1="184" y1="487" x2="187.2" y2="487" stroke="#2a2a2a" stroke-width="1"/>
<text x="181.2" y="489.55" font-size="7.4" text-anchor="end" fill="#1a1a1a" stroke="#1a1a1a" stroke-width="0.1">0</text>
<line x1="184" y1="468.76" x2="187.2" y2="468.76" stroke="#2a2a2a" stroke-width="1"/>
<text x="181.2" y="471.31" font-size="7.4" text-anchor="end" fill="#1a1a1a" stroke="#1a1a1a" stroke-width="0.1">200</text>
<line x1="184" y1="450.52" x2="187.2" y2="450.52" stroke="#2a2a2a" stroke-width="1"/>
<text x="181.2" y="453.07" font-size="7.4" text-anchor="end" fill="#1a1a1a" stroke="#1a1a1a" stroke-width="0.1">400</text>
<line x1="184" y1="432.28" x2="187.2" y2="432.28" stroke="#2a2a2a" stroke-width="1"/>
<text x="181.2" y="434.83" font-size="7.4" text-anchor="end" fill="#1a1a1a" stroke="#1a1a1a" stroke-width="0.1">600</text>
<line x1="184" y1="414.04" x2="187.2" y2="414.04" stroke="#2a2a2a" stroke-width="1"/>
<text x="181.2" y="416.59" font-size="7.4" text-anchor="end" fill="#1a1a1a" stroke="#1a1a1a" stroke-width="0.1">800</text>
<line x1="184" y1="395.8" x2="187.2" y2="395.8" stroke="#2a2a2a" stroke-width="1"/>
<text x="181.2" y="398.35" font-size="7.4" text-anchor="end" fill="#1a1a1a" stroke="#1a1a1a" stroke-width="0.1">1000</text>
<line x1="186.7" y1="487" x2="249.1" y2="487" stroke="#2a2a2a" stroke-width="1"/>
<line x1="248.6" y1="393.6" x2="248.6" y2="449.6" stroke="#2a2a2a" stroke-width="1"/>
<line x1="248.6" y1="456" x2="248.6" y2="487" stroke="#2a2a2a" stroke-width="1"/>
<line x1="248.6" y1="394.9" x2="251.8" y2="394.9" stroke="#2a2a2a" stroke-width="1"/>
<text x="254.1" y="397.45" font-size="7.4" text-anchor="start" fill="#1a1a1a" stroke="#1a1a1a" stroke-width="0.1">5.0</text>
<line x1="248.6" y1="422.8" x2="251.8" y2="422.8" stroke="#2a2a2a" stroke-width="1"/>
<text x="254.1" y="425.35" font-size="7.4" text-anchor="start" fill="#1a1a1a" stroke="#1a1a1a" stroke-width="0.1">4.5</text>
<line x1="248.6" y1="449.6" x2="251.8" y2="449.6" stroke="#2a2a2a" stroke-width="1"/>
<text x="254.1" y="452.15" font-size="7.4" text-anchor="start" fill="#1a1a1a" stroke="#1a1a1a" stroke-width="0.1">4.0</text>
<line x1="248.6" y1="456.3" x2="251.8" y2="456.3" stroke="#2a2a2a" stroke-width="1"/>
<text x="254.1" y="458.85" font-size="7.4" text-anchor="start" fill="#1a1a1a" stroke="#1a1a1a" stroke-width="0.1">0.5</text>
<line x1="248.6" y1="487" x2="251.8" y2="487" stroke="#2a2a2a" stroke-width="1"/>
<text x="254.1" y="489.55" font-size="7.4" text-anchor="start" fill="#1a1a1a" stroke="#1a1a1a" stroke-width="0.1">0.0</text>
<text x="158.8" y="470.12" font-size="8.4" fill="#1a1a1a" stroke="#1a1a1a" stroke-width="0.1" textLength="60.16" lengthAdjust="spacingAndGlyphs" transform="rotate(-90 158.8 470.12)">Platelets (K/μL)</text>
<text x="271.4" y="423.11" font-size="8.4" fill="#4A6A9E" stroke="#4A6A9E" stroke-width="0.1" textLength="33.32" lengthAdjust="spacingAndGlyphs" transform="rotate(90 271.4 423.11)">MPV (fL)</text>
<line x1="195.55" y1="427.1" x2="195.55" y2="424.4" stroke="#922838" stroke-width="1"/>
<line x1="192.52" y1="424.4" x2="198.58" y2="424.4" stroke="#922838" stroke-width="1"/>
<rect x="190.8" y="426.9" width="9.5" height="59.8" fill="#A23544" stroke="#922838" stroke-width="0.6"/>
<line x1="210.85" y1="430.4" x2="210.85" y2="428.1" stroke="#3E557C" stroke-width="1"/>
<line x1="207.82" y1="428.1" x2="213.88" y2="428.1" stroke="#3E557C" stroke-width="1"/>
<rect x="206.1" y="430.2" width="9.5" height="56.5" fill="#4C6385" stroke="#3E557C" stroke-width="0.6"/>
<line x1="218.5" y1="406.1" x2="218.5" y2="487" stroke="#111" stroke-width="1.3" stroke-dasharray="1.6,1.6"/>
<line x1="225.95" y1="436.2" x2="225.95" y2="433" stroke="#922838" stroke-width="1"/>
<line x1="222.86" y1="433" x2="229.04" y2="433" stroke="#922838" stroke-width="1"/>
<rect x="221.1" y="436" width="9.7" height="13.3" fill="#A23544" stroke="#922838" stroke-width="0.6"/>
<rect x="221.1" y="457.3" width="9.7" height="29.4" fill="#A23544" stroke="#922838" stroke-width="0.6"/>
<line x1="241.05" y1="431.7" x2="241.05" y2="427.6" stroke="#3E557C" stroke-width="1"/>
<line x1="238.02" y1="427.6" x2="244.08" y2="427.6" stroke="#3E557C" stroke-width="1"/>
<rect x="236.3" y="431.5" width="9.5" height="17.8" fill="#4C6385" stroke="#3E557C" stroke-width="0.6"/>
<rect x="236.3" y="457.3" width="9.5" height="29.4" fill="#4C6385" stroke="#3E557C" stroke-width="0.6"/>
<line x1="193.4" y1="410.2" x2="209.6" y2="410.2" stroke="#3a3a3a" stroke-width="1"/>
<text x="197.29" y="408.3" font-size="7" fill="#1a1a1a" stroke="#1a1a1a" stroke-width="0.1" textLength="8.08" lengthAdjust="spacingAndGlyphs">ns</text>
<line x1="224.3" y1="410.6" x2="240.5" y2="410.6" stroke="#888" stroke-width="1.4"/>
<text x="228.3" y="408.5" font-size="7" fill="#1a1a1a" stroke="#1a1a1a" stroke-width="0.1" textLength="7.97" lengthAdjust="spacingAndGlyphs">ns</text>
<text x="185.59" y="387.8" font-size="10" fill="#1a1a1a" stroke="#1a1a1a" stroke-width="0.1" textLength="64.89" lengthAdjust="spacingAndGlyphs">Sphk1<tspan font-size="7.2" dy="-4.4">f/f</tspan><tspan dy="4.4">:Sphk2</tspan><tspan font-size="7.2" dy="-4.4">-/-</tspan></text>
<rect x="192.35" y="499.65" width="8.1" height="3.9" fill="#A23544" stroke="#922838" stroke-width="0.7"/>
<rect x="192.35" y="510.85" width="8.1" height="3.9" fill="#4C6385" stroke="#3E557C" stroke-width="0.7"/>
<text x="203.05" y="503.9" font-size="7.8" fill="#1a1a1a" stroke="#1a1a1a" stroke-width="0.1" textLength="43.86" lengthAdjust="spacingAndGlyphs">Pf4Cre<tspan font-size="5.62" dy="-3.43">-</tspan><tspan dy="3.43"> (n=41)</tspan></text>
<text x="203.05" y="514.9" font-size="7.8" fill="#1a1a1a" stroke="#1a1a1a" stroke-width="0.1" textLength="45.37" lengthAdjust="spacingAndGlyphs">Pf4Cre<tspan font-size="5.62" dy="-3.43">+</tspan><tspan dy="3.43"> (n=31)</tspan></text>
<line x1="335.6" y1="406.2" x2="335.6" y2="487.3" stroke="#2a2a2a" stroke-width="1"/>
<line x1="332.4" y1="487.3" x2="335.6" y2="487.3" stroke="#2a2a2a" stroke-width="1"/>
<text x="329.8" y="489.85" font-size="7.4" text-anchor="end" fill="#1a1a1a" stroke="#1a1a1a" stroke-width="0.1">0.0</text>
<line x1="332.4" y1="467.77" x2="335.6" y2="467.77" stroke="#2a2a2a" stroke-width="1"/>
<text x="329.8" y="470.33" font-size="7.4" text-anchor="end" fill="#1a1a1a" stroke="#1a1a1a" stroke-width="0.1">0.2</text>
<line x1="332.4" y1="448.25" x2="335.6" y2="448.25" stroke="#2a2a2a" stroke-width="1"/>
<text x="329.8" y="450.8" font-size="7.4" text-anchor="end" fill="#1a1a1a" stroke="#1a1a1a" stroke-width="0.1">0.4</text>
<line x1="332.4" y1="428.73" x2="335.6" y2="428.73" stroke="#2a2a2a" stroke-width="1"/>
<text x="329.8" y="431.28" font-size="7.4" text-anchor="end" fill="#1a1a1a" stroke="#1a1a1a" stroke-width="0.1">0.6</text>
<line x1="332.4" y1="409.2" x2="335.6" y2="409.2" stroke="#2a2a2a" stroke-width="1"/>
<text x="329.8" y="411.75" font-size="7.4" text-anchor="end" fill="#1a1a1a" stroke="#1a1a1a" stroke-width="0.1">0.8</text>
<line x1="335.1" y1="487.3" x2="374.3" y2="487.3" stroke="#2a2a2a" stroke-width="1"/>
<line x1="345.45" y1="424.2" x2="345.45" y2="414.7" stroke="#C46A78" stroke-width="1"/>
<line x1="342.45" y1="414.7" x2="348.45" y2="414.7" stroke="#C46A78" stroke-width="1"/>
<rect x="339.2" y="424" width="12.5" height="63" fill="#A23544" stroke="#922838" stroke-width="0.6"/>
<line x1="364.55" y1="434.2" x2="364.55" y2="423.7" stroke="#7D95BD" stroke-width="1"/>
<line x1="361.55" y1="423.7" x2="367.55" y2="423.7" stroke="#7D95BD" stroke-width="1"/>
<rect x="358.3" y="434" width="12.5" height="53" fill="#4C6385" stroke="#3E557C" stroke-width="0.6"/>
<line x1="349.3" y1="410.7" x2="374.7" y2="410.7" stroke="#3a3a3a" stroke-width="1"/>
<text x="358.34" y="407.5" font-size="7" fill="#1a1a1a" stroke="#1a1a1a" stroke-width="0.1" textLength="7.31" lengthAdjust="spacingAndGlyphs">ns</text>
<text x="314.6" y="477.58" font-size="8.4" fill="#1a1a1a" stroke="#1a1a1a" stroke-width="0.1" textLength="62.69" lengthAdjust="spacingAndGlyphs" transform="rotate(-90 314.6 477.58)">MKP (% of BMC)</text>
<text x="323.29" y="396.1" font-size="10" fill="#1a1a1a" stroke="#1a1a1a" stroke-width="0.1" textLength="66.01" lengthAdjust="spacingAndGlyphs">Sphk1<tspan font-size="7.2" dy="-4.4">f/f</tspan><tspan dy="4.4">:Sphk2</tspan><tspan font-size="7.2" dy="-4.4">-/-</tspan></text>
<rect x="322.35" y="498.55" width="8" height="5.8" fill="#A23544" stroke="#922838" stroke-width="0.7"/>
<rect x="322.35" y="509.95" width="8" height="5.9" fill="#4C6385" stroke="#3E557C" stroke-width="0.7"/>
<text x="333.04" y="504.2" font-size="7.8" fill="#1a1a1a" stroke="#1a1a1a" stroke-width="0.1" textLength="43.38" lengthAdjust="spacingAndGlyphs">Mx1Cre<tspan font-size="5.62" dy="-3.43">-</tspan><tspan dy="3.43"> (n=5)</tspan></text>
<text x="333.03" y="515" font-size="7.8" fill="#1a1a1a" stroke="#1a1a1a" stroke-width="0.1" textLength="45.5" lengthAdjust="spacingAndGlyphs">Mx1Cre<tspan font-size="5.62" dy="-3.43">+</tspan><tspan dy="3.43"> (n=5)</tspan></text>
<line x1="435.3" y1="401" x2="435.3" y2="486.9" stroke="#2a2a2a" stroke-width="1"/>
<line x1="432.1" y1="475.5" x2="435.3" y2="475.5" stroke="#2a2a2a" stroke-width="1"/>
<text x="429.5" y="478.05" font-size="7.4" text-anchor="end" fill="#1a1a1a" stroke="#1a1a1a" stroke-width="0.1">0</text>
<line x1="432.1" y1="457.55" x2="435.3" y2="457.55" stroke="#2a2a2a" stroke-width="1"/>
<text x="429.5" y="460.1" font-size="7.4" text-anchor="end" fill="#1a1a1a" stroke="#1a1a1a" stroke-width="0.1">25</text>
<line x1="432.1" y1="439.6" x2="435.3" y2="439.6" stroke="#2a2a2a" stroke-width="1"/>
<text x="429.5" y="442.15" font-size="7.4" text-anchor="end" fill="#1a1a1a" stroke="#1a1a1a" stroke-width="0.1">50</text>
<line x1="432.1" y1="421.65" x2="435.3" y2="421.65" stroke="#2a2a2a" stroke-width="1"/>
<text x="429.5" y="424.2" font-size="7.4" text-anchor="end" fill="#1a1a1a" stroke="#1a1a1a" stroke-width="0.1">75</text>
<line x1="432.1" y1="403.7" x2="435.3" y2="403.7" stroke="#2a2a2a" stroke-width="1"/>
<text x="429.5" y="406.25" font-size="7.4" text-anchor="end" fill="#1a1a1a" stroke="#1a1a1a" stroke-width="0.1">100</text>
<line x1="434.8" y1="486.9" x2="509.2" y2="486.9" stroke="#2a2a2a" stroke-width="1"/>
<line x1="446.8" y1="486.9" x2="446.8" y2="489.7" stroke="#2a2a2a" stroke-width="1"/>
<text x="446.8" y="499.8" font-size="8" text-anchor="middle" fill="#1a1a1a" stroke="#1a1a1a" stroke-width="0.1">0</text>
<line x1="461.7" y1="486.9" x2="461.7" y2="489.7" stroke="#2a2a2a" stroke-width="1"/>
<text x="461.7" y="499.8" font-size="8" text-anchor="middle" fill="#1a1a1a" stroke="#1a1a1a" stroke-width="0.1">1</text>
<line x1="476.4" y1="486.9" x2="476.4" y2="489.7" stroke="#2a2a2a" stroke-width="1"/>
<text x="476.4" y="499.8" font-size="8" text-anchor="middle" fill="#1a1a1a" stroke="#1a1a1a" stroke-width="0.1">2</text>
<line x1="491.1" y1="486.9" x2="491.1" y2="489.7" stroke="#2a2a2a" stroke-width="1"/>
<text x="491.1" y="499.8" font-size="8" text-anchor="middle" fill="#1a1a1a" stroke="#1a1a1a" stroke-width="0.1">3</text>
<line x1="506.1" y1="486.9" x2="506.1" y2="489.7" stroke="#2a2a2a" stroke-width="1"/>
<text x="506.1" y="499.8" font-size="8" text-anchor="middle" fill="#1a1a1a" stroke="#1a1a1a" stroke-width="0.1">4</text>
<text x="450.21" y="512.7" font-size="10.2" fill="#1a1a1a" stroke="#1a1a1a" stroke-width="0.1" textLength="44.72" lengthAdjust="spacingAndGlyphs">Time (days)</text>
<text x="410.3" y="493.23" font-size="8.4" fill="#1a1a1a" stroke="#1a1a1a" stroke-width="0.1" textLength="98.08" lengthAdjust="spacingAndGlyphs" transform="rotate(-90 410.3 493.23)">Biotinylated platelets (%)</text>
<text x="436.09" y="395" font-size="10" fill="#1a1a1a" stroke="#1a1a1a" stroke-width="0.1" textLength="65.8" lengthAdjust="spacingAndGlyphs">Sphk1<tspan font-size="7.2" dy="-4.4">f/f</tspan><tspan dy="4.4">:Sphk2</tspan><tspan font-size="7.2" dy="-4.4">-/-</tspan></text>
<line x1="448.5" y1="416.98" x2="448.5" y2="414.11" stroke="#D06A7A" stroke-width="1"/>
<line x1="446.8" y1="414.11" x2="450.2" y2="414.11" stroke="#D06A7A" stroke-width="1"/>
<line x1="461.9" y1="422.01" x2="461.9" y2="418.42" stroke="#D06A7A" stroke-width="1"/>
<line x1="460.2" y1="418.42" x2="463.6" y2="418.42" stroke="#D06A7A" stroke-width="1"/>
<line x1="476.3" y1="441.25" x2="476.3" y2="436.94" stroke="#D06A7A" stroke-width="1"/>
<line x1="474.6" y1="436.94" x2="478" y2="436.94" stroke="#D06A7A" stroke-width="1"/>
<line x1="491" y1="458.12" x2="491" y2="455.25" stroke="#D06A7A" stroke-width="1"/>
<line x1="489.3" y1="455.25" x2="492.7" y2="455.25" stroke="#D06A7A" stroke-width="1"/>
<line x1="506.4" y1="466.17" x2="506.4" y2="463.29" stroke="#D06A7A" stroke-width="1"/>
<line x1="504.7" y1="463.29" x2="508.1" y2="463.29" stroke="#D06A7A" stroke-width="1"/>
<polyline points="448.5,415.55 461.9,420.21 476.3,439.1 491,456.69 506.4,464.73" fill="none" stroke="#B0303F" stroke-width="1.25"/>
<circle cx="448.5" cy="415.55" r="1.4" fill="#B0303F"/>
<circle cx="461.9" cy="420.21" r="1.4" fill="#B0303F"/>
<circle cx="476.3" cy="439.1" r="1.4" fill="#B0303F"/>
<circle cx="491" cy="456.69" r="1.4" fill="#B0303F"/>
<circle cx="506.4" cy="464.73" r="1.4" fill="#B0303F"/>
<polyline points="448.5,415.55 461.9,424.16 476.3,445.7 491,460.92 506.4,467.31" fill="none" stroke="#3F5D8E" stroke-width="1.2" stroke-dasharray="2.6,1.6"/>
<line x1="448.5" y1="418.42" x2="448.5" y2="412.68" stroke="#4A6898" stroke-width="0.9"/>
<line x1="446.8" y1="418.42" x2="450.2" y2="418.42" stroke="#4A6898" stroke-width="0.9"/>
<line x1="446.8" y1="412.68" x2="450.2" y2="412.68" stroke="#4A6898" stroke-width="0.9"/>
<line x1="461.9" y1="431.34" x2="461.9" y2="416.98" stroke="#4A6898" stroke-width="0.9"/>
<line x1="460.2" y1="431.34" x2="463.6" y2="431.34" stroke="#4A6898" stroke-width="0.9"/>
<line x1="460.2" y1="416.98" x2="463.6" y2="416.98" stroke="#4A6898" stroke-width="0.9"/>
<line x1="476.3" y1="453.6" x2="476.3" y2="437.81" stroke="#4A6898" stroke-width="0.9"/>
<line x1="474.6" y1="453.6" x2="478" y2="453.6" stroke="#4A6898" stroke-width="0.9"/>
<line x1="474.6" y1="437.81" x2="478" y2="437.81" stroke="#4A6898" stroke-width="0.9"/>
<line x1="491" y1="465.23" x2="491" y2="456.62" stroke="#4A6898" stroke-width="0.9"/>
<line x1="489.3" y1="465.23" x2="492.7" y2="465.23" stroke="#4A6898" stroke-width="0.9"/>
<line x1="489.3" y1="456.62" x2="492.7" y2="456.62" stroke="#4A6898" stroke-width="0.9"/>
<line x1="506.4" y1="471.62" x2="506.4" y2="463.01" stroke="#4A6898" stroke-width="0.9"/>
<line x1="504.7" y1="471.62" x2="508.1" y2="471.62" stroke="#4A6898" stroke-width="0.9"/>
<line x1="504.7" y1="463.01" x2="508.1" y2="463.01" stroke="#4A6898" stroke-width="0.9"/>
<rect x="447.1" y="413.75" width="2.8" height="3.6" fill="#3F5D8E"/>
<rect x="460.5" y="422.36" width="2.8" height="3.6" fill="#3F5D8E"/>
<rect x="474.9" y="443.9" width="2.8" height="3.6" fill="#3F5D8E"/>
<rect x="489.6" y="459.12" width="2.8" height="3.6" fill="#3F5D8E"/>
<rect x="505" y="465.51" width="2.8" height="3.6" fill="#3F5D8E"/>
<line x1="439.1" y1="471.6" x2="448.3" y2="471.6" stroke="#B0303F" stroke-width="1.25"/>
<circle cx="443.6" cy="471.6" r="1.5" fill="#B0303F"/>
<line x1="439.1" y1="481.2" x2="448.3" y2="481.2" stroke="#3F5D8E" stroke-width="1.2" stroke-dasharray="2.6,1.6"/>
<rect x="442.2" y="479.4" width="2.8" height="3.6" fill="#3F5D8E"/>
<text x="450.23" y="473.8" font-size="7.8" fill="#1a1a1a" stroke="#1a1a1a" stroke-width="0.1" textLength="43.99" lengthAdjust="spacingAndGlyphs">Mx1Cre<tspan font-size="5.62" dy="-3.43">-</tspan><tspan dy="3.43"> (n=4)</tspan></text>
<text x="450.23" y="483.7" font-size="7.8" fill="#1a1a1a" stroke="#1a1a1a" stroke-width="0.1" textLength="45.29" lengthAdjust="spacingAndGlyphs">Mx1Cre<tspan font-size="5.62" dy="-3.43">+</tspan><tspan dy="3.43"> (n=4)</tspan></text>
<rect x="0" y="0" width="520" height="1.3" fill="#000"/>
<rect x="0" y="0" width="1.3" height="538" fill="#000"/>
<rect x="518.6" y="0" width="1.4" height="538" fill="#555"/>
<rect x="0" y="536.4" width="520" height="1.6" fill="#555"/>
</svg></body></html>
